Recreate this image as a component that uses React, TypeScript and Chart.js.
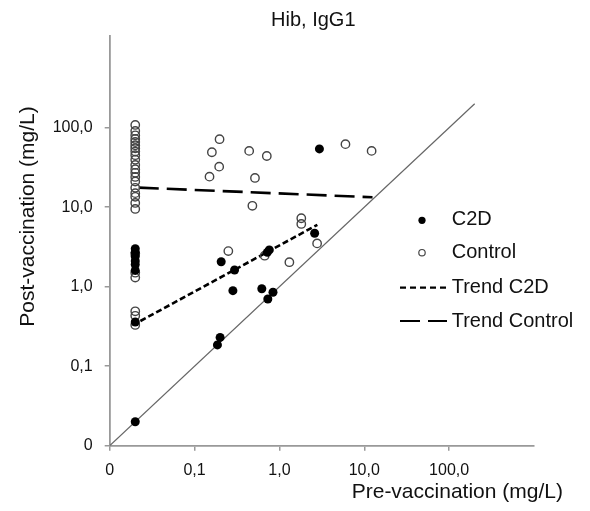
import { useEffect, useRef } from "react";
import { Chart, registerables } from "chart.js";

Chart.register(...registerables);

const chartTitle = "Hib, IgG1";
const xAxisTitle = "Pre-vaccination (mg/L)";
const yAxisTitle = "Post-vaccination (mg/L)";

const tickValues = [0.01, 0.1, 1, 10, 100];
const tickLabels = ["0", "0,1", "1,0", "10,0", "100,0"];

const c2dX = [0.02, 0.02, 0.02, 0.02, 0.02, 0.02, 0.02, 0.02, 0.206, 0.296, 0.76, 0.72, 0.283, 0.62, 0.84, 0.73, 0.2, 0.186, 2.6, 2.96];
const c2dY = [3.0, 2.7, 2.4, 2.1, 1.9, 1.6, 0.36, 0.02, 2.06, 1.62, 2.9, 2.7, 0.89, 0.94, 0.85, 0.7, 0.23, 0.185, 4.7, 54];

const controlX = [
  0.02, 0.02, 0.02, 0.02, 0.02, 0.02, 0.02, 0.02, 0.02, 0.02, 0.02, 0.02, 0.02,
  0.02, 0.02, 0.02, 0.02, 0.02, 0.02, 0.02, 0.02, 0.02, 0.02, 0.02, 0.02, 0.02,
  0.197, 0.16, 0.195, 0.15, 0.44, 0.71, 0.515, 0.48, 6.0, 12.2, 1.81, 1.81, 2.78, 0.25, 0.67, 1.31,
];
const controlY = [
  108, 91, 80, 72, 66, 60, 55, 50, 45, 39.5, 34, 30, 27,
  24, 21, 17.5, 15, 13.5, 11.3, 9.5, 2.6, 1.5, 1.3, 0.49, 0.43, 0.33,
  71.5, 49, 32.3, 24.2, 51, 44, 23.3, 10.4, 62, 51, 7.25, 6.15, 3.5, 2.8, 2.45, 2.03,
];

const trendC2dX = [0.023, 2.8];
const trendC2dY = [0.37, 6.0];
const trendControlX = [0.022, 12.5];
const trendControlY = [17.6, 13.3];
const identityX = [0.01, 200];
const identityY = [0.01, 200];

const legendLabels = ["C2D", "Control", "Trend C2D", "Trend Control"];

const FONT = '"Liberation Sans", Arial, sans-serif';

const toPoints = (xs: number[], ys: number[]) => xs.map((x, i) => ({ x, y: ys[i] }));

const overlayPlugin = {
  id: "overlayText",
  afterDraw(chart: any) {
    const ctx = chart.ctx as CanvasRenderingContext2D;
    const area = chart.chartArea;
    ctx.save();
    ctx.fillStyle = "#111";

    // title
    ctx.font = `20px ${FONT}`;
    ctx.textAlign = "center";
    ctx.textBaseline = "middle";
    ctx.fillText(chartTitle, area.left + 203.6, 12);

    // x axis title
    ctx.font = `21px ${FONT}`;
    ctx.textAlign = "left";
    ctx.textBaseline = "alphabetic";
    ctx.fillText(xAxisTitle, area.left + 242, 489.5);

    // y axis title
    ctx.save();
    ctx.translate(25.5, 208.5);
    ctx.rotate(-Math.PI / 2);
    ctx.textAlign = "center";
    ctx.textBaseline = "alphabetic";
    ctx.fillText(yAxisTitle, 0, 0);
    ctx.restore();

    // legend
    const markX = 414;
    const textX = 443.7;
    const rows = [210.8, 243.7, 278.7, 312];
    ctx.font = `20px ${FONT}`;
    ctx.textAlign = "left";
    ctx.textBaseline = "middle";
    legendLabels.forEach((label, i) => {
      ctx.fillStyle = "#111";
      ctx.fillText(label, textX, rows[i] + 1);
    });
    // C2D marker
    ctx.beginPath();
    ctx.fillStyle = "#000";
    ctx.arc(markX, rows[0] + 1.5, 3.6, 0, Math.PI * 2);
    ctx.fill();
    // Control marker
    ctx.beginPath();
    ctx.strokeStyle = "#444";
    ctx.lineWidth = 1.2;
    ctx.arc(markX, rows[1] + 1, 3.2, 0, Math.PI * 2);
    ctx.stroke();
    // Trend C2D
    ctx.beginPath();
    ctx.strokeStyle = "#000";
    ctx.lineWidth = 2.2;
    ctx.setLineDash([6, 4]);
    ctx.moveTo(392, rows[2] + 1);
    ctx.lineTo(440, rows[2] + 1);
    ctx.stroke();
    // Trend Control
    ctx.beginPath();
    ctx.setLineDash([20, 8]);
    ctx.moveTo(392, rows[3] + 1);
    ctx.lineTo(439, rows[3] + 1);
    ctx.stroke();
    ctx.setLineDash([]);
    ctx.restore();
  },
};

export default function App() {
  const canvasRef = useRef<HTMLCanvasElement | null>(null);

  useEffect(() => {
    if (!canvasRef.current) return;
    const tickFont = { family: FONT, size: 16 };
    const chart = new Chart(canvasRef.current, {
      type: "scatter",
      data: {
        datasets: [
          {
            label: "Identity",
            data: toPoints(identityX, identityY),
            showLine: true,
            borderColor: "#666",
            borderWidth: 1.2,
            pointRadius: 0,
            order: 5,
          },
          {
            label: legendLabels[3],
            data: toPoints(trendControlX, trendControlY),
            showLine: true,
            borderColor: "#000",
            borderWidth: 2.6,
            borderDash: [20, 8],
            pointRadius: 0,
            order: 4,
          },
          {
            label: legendLabels[2],
            data: toPoints(trendC2dX, trendC2dY),
            showLine: true,
            borderColor: "#000",
            borderWidth: 2.6,
            borderDash: [6, 3],
            pointRadius: 0,
            order: 3,
          },
          {
            label: legendLabels[1],
            data: toPoints(controlX, controlY),
            pointRadius: 4.2,
            pointBorderWidth: 1.4,
            pointBorderColor: "#444",
            pointBackgroundColor: "rgba(0,0,0,0)",
            borderColor: "#444",
            backgroundColor: "rgba(0,0,0,0)",
            order: 2,
          },
          {
            label: legendLabels[0],
            data: toPoints(c2dX, c2dY),
            pointRadius: 4.5,
            pointBorderWidth: 0,
            pointBackgroundColor: "#000",
            borderColor: "#000",
            backgroundColor: "#000",
            order: 1,
          },
        ],
      },
      options: {
        responsive: false,
        animation: false,
        layout: { padding: { top: 28, right: 48, left: 0, bottom: 0 } },
        plugins: {
          legend: { display: false },
          title: { display: false },
          tooltip: { enabled: false },
        },
        scales: {
          x: {
            type: "logarithmic",
            min: 0.01,
            max: 1000,
            afterBuildTicks: (s: any) => {
              s.ticks = tickValues.map((v) => ({ value: v }));
            },
            afterFit: (s: any) => {
              s.height = 57.3;
            },
            grid: { drawOnChartArea: false, drawTicks: true, tickLength: 5, color: "#999", lineWidth: 1.5 },
            border: { display: true, color: "#999", width: 1.8 },
            ticks: {
              autoSkip: false,
              maxRotation: 0,
              padding: 10,
              color: "#111",
              font: tickFont,
              callback: (_v: any, i: number) => tickLabels[i],
            },
          },
          y: {
            type: "logarithmic",
            min: 0.01,
            max: 1420,
            afterBuildTicks: (s: any) => {
              s.ticks = tickValues.map((v) => ({ value: v }));
            },
            afterFit: (s: any) => {
              s.width = 101.7;
            },
            grid: { drawOnChartArea: false, drawTicks: true, tickLength: 5, color: "#999", lineWidth: 1.5 },
            border: { display: true, color: "#999", width: 1.8 },
            ticks: {
              autoSkip: false,
              padding: 12,
              color: "#111",
              font: tickFont,
              callback: (_v: any, i: number) => tickLabels[i],
            },
          },
        },
      } as any,
      plugins: [overlayPlugin],
    });
    return () => chart.destroy();
  }, []);

  return (
    <div style={{ width: 574, height: 495 }}>
      <canvas ref={canvasRef} width={574} height={495} style={{ display: "block" }} />
    </div>
  );
}
